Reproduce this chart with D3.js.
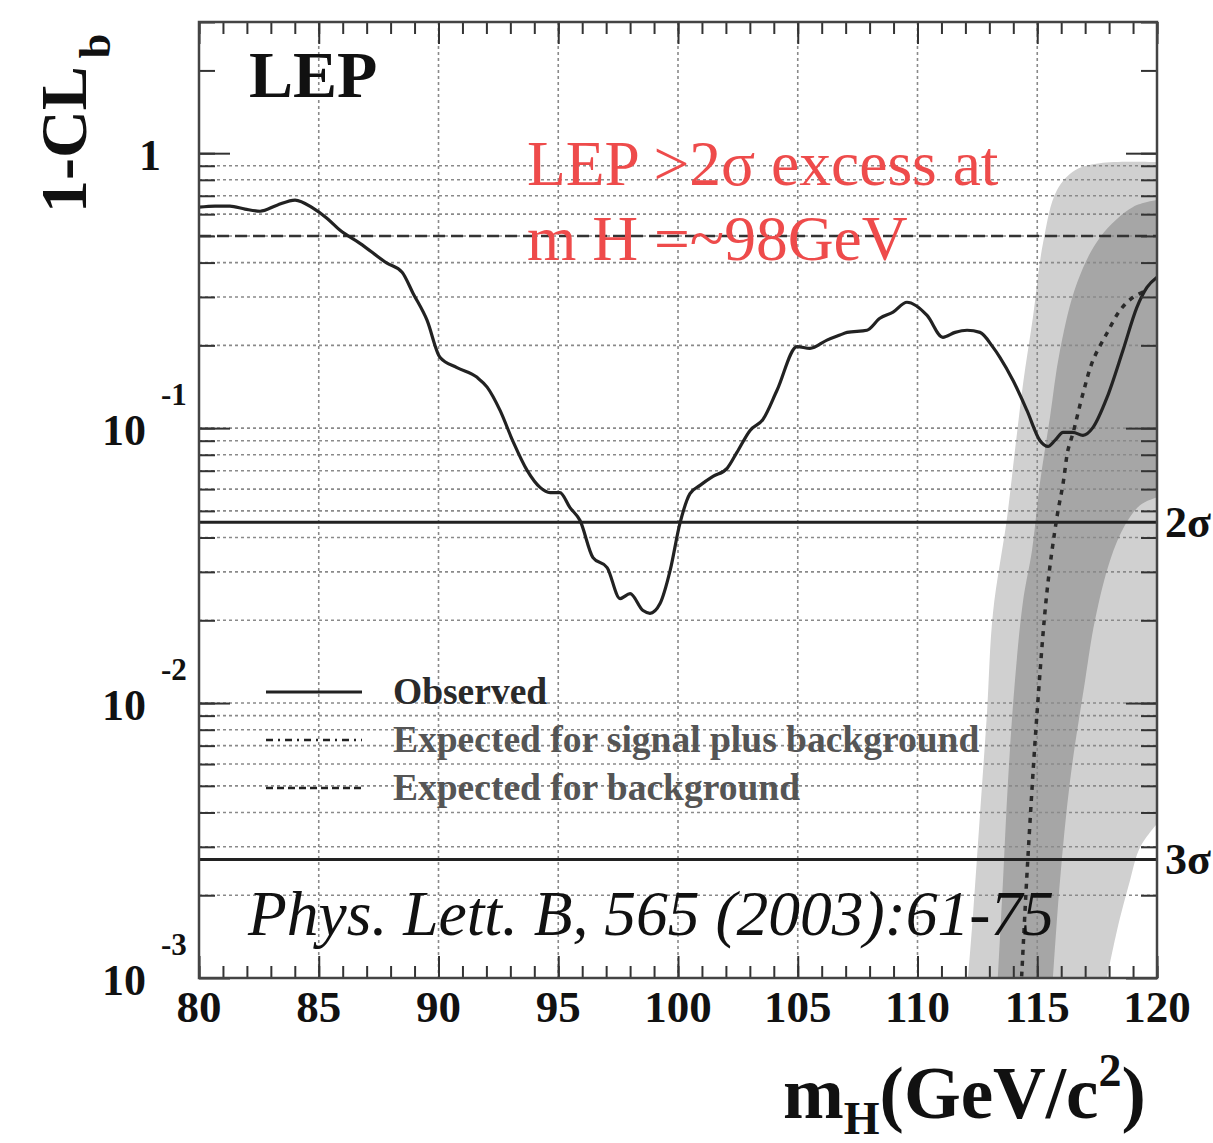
<!DOCTYPE html>
<html>
<head>
<meta charset="utf-8">
<script src="https://cdn.jsdelivr.net/npm/d3@7"></script>
<style>
body { margin: 0; background: #fff; }
text { font-family: "Liberation Serif", "Times New Roman", serif; }
</style>
</head>
<body>
<div id="chart"></div>
<script>
// observed 1-CLb
const massObs = [80.00,80.67,81.29,81.92,82.55,83.26,84.01,84.76,85.34,85.89,86.72,87.85,88.48,88.94,89.52,90.06,
  90.77,91.61,92.03,92.57,93.11,93.70,94.24,94.66,95.07,95.49,95.91,96.45,97.04,97.58,98.00,98.54,98.83,99.25,
  99.67,100.08,100.50,100.92,101.46,102.05,102.46,103.01,103.55,104.13,104.97,105.51,106.22,106.76,107.06,107.89,
  108.43,108.98,109.56,110.40,111.06,111.57,112.07,112.61,113.15,113.44,113.99,114.57,115.11,115.45,115.74,116.08,
  116.49,116.91,117.33,117.91,118.58,119.16,119.58,120.00];
const clbObs = [0.636,0.642,0.642,0.626,0.615,0.647,0.675,0.631,0.580,0.524,0.470,0.398,0.369,0.309,0.247,0.181,
  0.166,0.153,0.141,0.116,0.0895,0.0702,0.0609,0.0583,0.0583,0.0514,0.0461,0.0338,0.0311,0.0240,0.0250,0.0217,0.0212,0.0230,
  0.0303,0.0450,0.0578,0.0619,0.0667,0.0714,0.0816,0.0981,0.1076,0.137,0.198,0.195,0.209,0.218,0.223,0.227,
  0.251,0.264,0.287,0.257,0.214,0.223,0.227,0.223,0.197,0.181,0.149,0.116,0.0902,0.0858,0.0902,0.0965,
  0.0965,0.0941,0.1006,0.129,0.192,0.275,0.325,0.354];

// expected for signal plus background
const massSB = [114.25,114.36,114.61,114.99,115.41,115.82,116.08,116.28,116.49,116.91,117.33,117.91,118.46,119.00,119.58];
const clbSB = [0.0007,0.00106,0.00274,0.00916,0.0256,0.0473,0.0630,0.0830,0.0957,0.1337,0.1766,0.2213,0.2685,0.2992,0.3170];

// expected for background
const massBkg = [80, 120];
const clbBkg = [0.5, 0.5];

// s+b bands (upper and lower edges)
const band2UpMass = [112.11,112.32,112.61,112.90,113.15,113.74,114.07,114.41,114.82,115.24,115.82,116.58,117.62,120.0];
const band2UpClb = [0.001,0.00171,0.00395,0.00916,0.0212,0.0473,0.0830,0.1455,0.253,0.470,0.733,0.867,0.920,0.927];
const band2LoMass = [117.91,118.33,118.87,119.29,120.0];
const band2LoClb = [0.001,0.00149,0.00226,0.00298,0.00364];
const band1UpMass = [113.36,113.57,113.78,114.07,114.41,114.78,115.11,115.53,115.95,116.66,117.62,119.00,120.0];
const band1UpClb = [0.001,0.00226,0.00522,0.0121,0.0236,0.0359,0.0630,0.1094,0.192,0.337,0.494,0.637,0.675];
const band1LoMass = [115.66,115.95,116.37,117.0,117.41,118.04,118.66,119.29,120.0];
const band1LoClb = [0.001,0.00226,0.00522,0.0121,0.0200,0.0330,0.0443,0.0524,0.0560];

const sigmaLevels = [0.0455, 0.0027];
const sigmaLabels = ["2\u03c3", "3\u03c3"];

const massTicks = [80, 85, 90, 95, 100, 105, 110, 115, 120];
const clbMajor = [1, 0.1, 0.01, 0.001];
const clbExp = ["", "-1", "-2", "-3"];

const legendLabels = ["Observed", "Expected for signal plus background", "Expected for background"];

function zip(a, b) { return a.map((v, i) => [v, b[i]]); }

function makeGraph() {
    let w = 1213, h = 1143;
    let svg = d3.select('#chart')
                .append('svg')
                .attr('width', w)
                .attr('height', h);

    let xScale = d3.scaleLinear().domain([80, 120]).range([199, 1157]);
    let yScale = d3.scaleLog().domain([0.001, 3]).range([978, 22]);
    let x0 = xScale.range()[0], x1 = xScale.range()[1];
    let yTop = yScale.range()[1], yBot = yScale.range()[0];

    svg.append('defs').append('clipPath').attr('id', 'plotclip')
        .append('rect')
        .attr('x', x0).attr('y', yTop)
        .attr('width', x1 - x0).attr('height', yBot - yTop);

    let plot = svg.append('g').attr('clip-path', 'url(#plotclip)');

    let line = d3.line().x(d => xScale(d[0])).y(d => yScale(d[1]));
    let smooth = d3.line().x(d => xScale(d[0])).y(d => yScale(d[1])).curve(d3.curveCatmullRom);

    function bandPath(upM, upC, loM, loC) {
        let up = smooth(zip(upM, upC));
        let lo = smooth(zip(loM, loC).reverse());
        return up + 'L' + lo.slice(1) + 'Z';
    }

    plot.append('path')
        .attr('d', bandPath(band2UpMass, band2UpClb, band2LoMass, band2LoClb))
        .style('fill', '#d0d0d0');
    plot.append('path')
        .attr('d', bandPath(band1UpMass, band1UpClb, band1LoMass, band1LoClb))
        .style('fill', '#a6a6a6');

    // grid
    let minorVals = [];
    for (let e = -3; e <= 0; e++) {
        for (let k = 1; k <= 9; k++) {
            let v = k * Math.pow(10, e);
            if (v > 0.0011 && v < 3.01) minorVals.push(+v.toPrecision(3));
        }
    }
    let gridVals = minorVals.filter(v => v <= 0.95);
    plot.selectAll('.hgrid')
        .data(gridVals)
        .enter()
        .append('line')
        .attr('x1', x0).attr('x2', x1)
        .attr('y1', d => yScale(d)).attr('y2', d => yScale(d))
        .style('stroke', '#8a8a8a')
        .style('stroke-width', 1.6)
        .style('stroke-dasharray', '3,3');
    plot.selectAll('.vgrid')
        .data(massTicks.slice(1, -1))
        .enter()
        .append('line')
        .attr('x1', d => xScale(d)).attr('x2', d => xScale(d))
        .attr('y1', yTop).attr('y2', yBot)
        .style('stroke', '#8a8a8a')
        .style('stroke-width', 1.6)
        .style('stroke-dasharray', '3,3');

    // sigma lines
    plot.selectAll('.sigma')
        .data(sigmaLevels)
        .enter()
        .append('line')
        .attr('x1', x0).attr('x2', x1)
        .attr('y1', d => yScale(d)).attr('y2', d => yScale(d))
        .style('stroke', '#222')
        .style('stroke-width', 3);

    // expected background
    plot.append('path')
        .attr('d', line(zip(massBkg, clbBkg)))
        .style('fill', 'none')
        .style('stroke', '#333')
        .style('stroke-width', 2.5)
        .style('stroke-dasharray', '12,6');

    // expected s+b
    plot.append('path')
        .attr('d', smooth(zip(massSB, clbSB)))
        .style('fill', 'none')
        .style('stroke', '#2a2a2a')
        .style('stroke-width', 3.5)
        .style('stroke-dasharray', '5,6');

    // observed
    plot.append('path')
        .attr('d', d3.line().x(d => xScale(d[0])).y(d => yScale(d[1])).curve(d3.curveMonotoneX)(zip(massObs, clbObs)))
        .style('fill', 'none')
        .style('stroke', '#222')
        .style('stroke-width', 3.2);

    // axes ticks (inward)
    let minorMass = d3.range(80, 121, 1);
    let tickStyle = g => {
        g.select('.domain').remove();
        g.selectAll('line').style('stroke', '#333').style('stroke-width', 2);
        g.selectAll('text').remove();
    };
    svg.append('g').attr('transform', `translate(0,${yBot})`)
        .call(d3.axisBottom(xScale).tickValues(minorMass).tickSize(-12).tickFormat(''))
        .call(tickStyle);
    svg.append('g').attr('transform', `translate(0,${yBot})`)
        .call(d3.axisBottom(xScale).tickValues(massTicks).tickSize(-22).tickFormat(''))
        .call(tickStyle);
    svg.append('g').attr('transform', `translate(0,${yTop})`)
        .call(d3.axisTop(xScale).tickValues(minorMass).tickSize(-12).tickFormat(''))
        .call(tickStyle);
    svg.append('g').attr('transform', `translate(0,${yTop})`)
        .call(d3.axisTop(xScale).tickValues(massTicks).tickSize(-22).tickFormat(''))
        .call(tickStyle);
    svg.append('g').attr('transform', `translate(${x0},0)`)
        .call(d3.axisLeft(yScale).tickValues(minorVals).tickSize(-16).tickFormat(''))
        .call(tickStyle);
    svg.append('g').attr('transform', `translate(${x0},0)`)
        .call(d3.axisLeft(yScale).tickValues(clbMajor).tickSize(-31).tickFormat(''))
        .call(tickStyle);
    svg.append('g').attr('transform', `translate(${x1},0)`)
        .call(d3.axisRight(yScale).tickValues(minorVals).tickSize(-16).tickFormat(''))
        .call(tickStyle);
    svg.append('g').attr('transform', `translate(${x1},0)`)
        .call(d3.axisRight(yScale).tickValues(clbMajor).tickSize(-31).tickFormat(''))
        .call(tickStyle);

    // frame
    svg.append('rect')
        .attr('x', x0).attr('y', yTop)
        .attr('width', x1 - x0).attr('height', yBot - yTop)
        .style('fill', 'none')
        .style('stroke', '#444')
        .style('stroke-width', 2.5);

    // x tick labels
    svg.selectAll('.xlab')
        .data(massTicks)
        .enter()
        .append('text')
        .attr('x', d => xScale(d))
        .attr('y', yBot + 44)
        .attr('text-anchor', 'middle')
        .style('font-weight', 'bold')
        .style('font-size', '45px')
        .style('fill', '#111')
        .text(d => d);

    // y tick labels
    clbMajor.forEach((v, i) => {
        let yy = yScale(v);
        if (i === 0) {
            svg.append('text')
                .attr('x', 150).attr('y', yy + 17)
                .attr('text-anchor', 'middle')
                .style('font-weight', 'bold').style('font-size', '44px').style('fill', '#111')
                .text('1');
        } else {
            svg.append('text')
                .attr('x', 146).attr('y', yy + 17)
                .attr('text-anchor', 'end')
                .style('font-weight', 'bold').style('font-size', '44px').style('fill', '#111')
                .text('10');
            svg.append('text')
                .attr('x', 161).attr('y', yy - 23)
                .style('font-weight', 'bold').style('font-size', '31px').style('fill', '#111')
                .text(clbExp[i]);
        }
    });

    // sigma labels
    svg.selectAll('.siglab')
        .data(sigmaLevels)
        .enter()
        .append('text')
        .attr('x', x1 + 8)
        .attr('y', d => yScale(d) + 15)
        .style('font-weight', 'bold')
        .style('font-size', '44px')
        .style('fill', '#111')
        .text((d, i) => sigmaLabels[i]);

    // y axis title
    let yt = svg.append('text')
        .attr('transform', 'translate(86,213) rotate(-90)')
        .style('font-weight', 'bold')
        .style('font-size', '66px')
        .style('fill', '#111');
    yt.append('tspan').text('1-CL');
    yt.append('tspan').attr('dx', 8).attr('dy', 24).style('font-size', '44px').text('b');

    // x axis title
    let xt = svg.append('text')
        .attr('x', 783).attr('y', 1118)
        .style('font-weight', 'bold')
        .style('font-size', '73px')
        .style('fill', '#111');
    xt.append('tspan').text('m');
    xt.append('tspan').attr('dy', 16).style('font-size', '46px').text('H');
    xt.append('tspan').attr('dy', -16).text('(GeV/c');
    xt.append('tspan').attr('dy', -32).style('font-size', '46px').text('2');
    xt.append('tspan').attr('dy', 32).text(')');

    // LEP label
    svg.append('text')
        .attr('x', 249).attr('y', 97)
        .style('font-weight', 'bold')
        .style('font-size', '66px')
        .style('fill', '#111')
        .text('LEP');

    // annotation
    svg.append('text')
        .attr('x', 527).attr('y', 185)
        .style('font-size', '63.5px')
        .style('fill', '#ee4b4b')
        .text('LEP >2\u03c3 excess at');
    svg.append('text')
        .attr('x', 527).attr('y', 260)
        .style('font-size', '63.5px')
        .style('fill', '#ee4b4b')
        .text('m H =~98GeV');

    svg.append('text')
        .attr('x', 248).attr('y', 935)
        .style('font-style', 'italic')
        .style('font-size', '63.5px')
        .style('fill', '#111')
        .text('Phys. Lett. B, 565 (2003):61-75');

    // legend
    let legY = [692, 740, 788];
    let legDash = [null, '7,5,2,5', '7,4'];
    let leg = svg.selectAll('.leg')
        .data(legendLabels)
        .enter()
        .append('g');
    leg.append('line')
        .attr('x1', 266).attr('x2', 362)
        .attr('y1', (d, i) => legY[i]).attr('y2', (d, i) => legY[i])
        .style('stroke', '#222')
        .style('stroke-width', (d, i) => i === 0 ? 3 : 2.5)
        .style('stroke-dasharray', (d, i) => legDash[i]);
    leg.append('text')
        .attr('x', 393)
        .attr('y', (d, i) => legY[i] + 12)
        .style('font-weight', 'bold')
        .style('font-size', '37.5px')
        .style('fill', (d, i) => i === 0 ? '#2a2a2a' : '#555')
        .text(d => d);
}

window.onload = () => {
    makeGraph();
}
</script>
</body>
</html>
